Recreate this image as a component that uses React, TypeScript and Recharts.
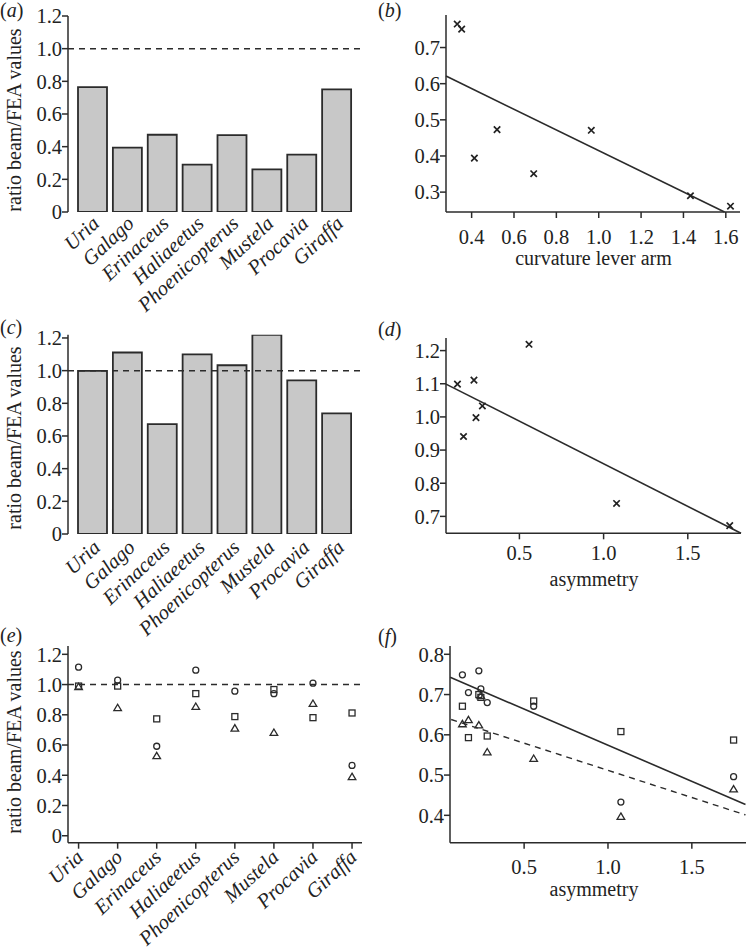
import React from 'react';
import { BarChart, Bar, XAxis, YAxis, ReferenceLine, ScatterChart, Scatter } from 'recharts';

const FONT = "'Liberation Serif', 'Times New Roman', serif";
const INK = '#2b2b2b';
const TXT = '#222';

// ---- data ----
const species = ['Uria', 'Galago', 'Erinaceus', 'Haliaeetus', 'Phoenicopterus', 'Mustela', 'Procavia', 'Giraffa'];
const ratioA = [0.765, 0.394, 0.473, 0.29, 0.471, 0.261, 0.351, 0.751];
const ratioC = [0.998, 1.111, 0.672, 1.099, 1.033, 1.219, 0.941, 0.739];
const curvatureLeverArm = [0.332, 0.413, 0.52, 1.433, 0.965, 1.622, 0.693, 0.353];
const asymmetry = [0.242, 0.23, 1.749, 0.132, 0.28, 0.557, 0.168, 1.077];
const eCircle = [1.115, 1.029, 0.592, 1.095, 0.956, 0.94, 1.009, 0.465];
const eSquare = [0.99, 0.99, 0.773, 0.94, 0.788, 0.967, 0.781, 0.812];
const eTriangle = [0.985, 0.846, 0.528, 0.854, 0.711, 0.682, 0.874, 0.39];
const fCircle = [0.714, 0.759, 0.496, 0.749, 0.68, 0.671, 0.705, 0.433];
const fSquare = [0.693, 0.7, 0.587, 0.671, 0.597, 0.684, 0.593, 0.608];
const fTriangle = [0.697, 0.624, 0.465, 0.627, 0.557, 0.541, 0.637, 0.397];
const fitB = [{ x: 0.279, y: 0.621 }, { x: 1.594, y: 0.245 }];
const fitD = [{ x: 0.064, y: 1.099 }, { x: 1.816, y: 0.649 }];
const fitFSolid = [{ x: 0.059, y: 0.743 }, { x: 1.82, y: 0.427 }];
const fitFDashed = [{ x: 0.065, y: 0.638 }, { x: 1.82, y: 0.401 }];

const ratioTicks = [0, 0.2, 0.4, 0.6, 0.8, 1.0, 1.2];
const curvTicks = [0.4, 0.6, 0.8, 1.0, 1.2, 1.4, 1.6];
const bTicksY = [0.3, 0.4, 0.5, 0.6, 0.7];
const asymTicks = [0.5, 1.0, 1.5];
const dTicksY = [0.7, 0.8, 0.9, 1.0, 1.1, 1.2];
const fTicksY = [0.4, 0.5, 0.6, 0.7, 0.8];
const speciesIdx = [0, 1, 2, 3, 4, 5, 6, 7];

const dataA = species.map((s, i) => ({ name: s, v: ratioA[i] }));
const dataC = species.map((s, i) => ({ name: s, v: ratioC[i] }));
const dataB = species.map((s, i) => ({ name: s, x: curvatureLeverArm[i], y: ratioA[i] }));
const dataD = species.map((s, i) => ({ name: s, x: asymmetry[i], y: ratioC[i] }));
const dataECircle = eCircle.map((v, i) => ({ x: speciesIdx[i], y: v }));
const dataESquare = eSquare.map((v, i) => ({ x: speciesIdx[i], y: v }));
const dataETriangle = eTriangle.map((v, i) => ({ x: speciesIdx[i], y: v }));
const dataFCircle = fCircle.map((v, i) => ({ x: asymmetry[i], y: v }));
const dataFSquare = fSquare.map((v, i) => ({ x: asymmetry[i], y: v }));
const dataFTriangle = fTriangle.map((v, i) => ({ x: asymmetry[i], y: v }));

// ---- helpers ----
const fmt1 = (v: number) => (v === 0 ? '0' : v.toFixed(1));
const tickStyle = { fontSize: 20.5, fill: TXT, fontFamily: FONT };
const axisLineStyle = { stroke: INK, strokeWidth: 1.5 };

const makeSpeciesTick = (dx: number, dy: number, fromIndex: boolean) => (props: any) => {
  const { x, y, payload } = props;
  const label = fromIndex ? species[payload.value] : payload.value;
  const tx = x + dx;
  const ty = y + dy;
  return (
    <text x={tx} y={ty} transform={`rotate(-43 ${tx} ${ty})`} textAnchor="end"
      fontStyle="italic" fontSize={20.5} fontFamily={FONT} fill={TXT}>{label}</text>
  );
};

const CrossMark = (p: any) => {
  const { cx, cy } = p;
  const s = 3.2;
  return <path d={`M${cx - s},${cy - s}L${cx + s},${cy + s}M${cx - s},${cy + s}L${cx + s},${cy - s}`} stroke={TXT} strokeWidth={1.7} fill="none" />;
};
const CircleMark = (p: any) => <circle cx={p.cx} cy={p.cy} r={3} fill="none" stroke={INK} strokeWidth={1.3} />;
const SquareMark = (p: any) => <rect x={p.cx - 3} y={p.cy - 3} width={6} height={6} fill="none" stroke={INK} strokeWidth={1.3} />;
const TriangleMark = (p: any) => <path d={`M${p.cx},${p.cy - 3.6}L${p.cx + 3.8},${p.cy + 2.8}L${p.cx - 3.8},${p.cy + 2.8}Z`} fill="none" stroke={INK} strokeWidth={1.3} />;

const Abs = ({ left, top, z, children }: any) => (
  <div style={{ position: 'absolute', left, top, zIndex: z || 0 }}>{children}</div>
);

const RatioBars = ({ data, top, height, xh, tick, ymax }: any) => (
  <BarChart width={373} height={height} data={data} margin={{ top, right: 13, left: 0, bottom: 0 }}>
    <XAxis dataKey="name" axisLine={false} tickLine={false} tickSize={0} tickMargin={0} height={xh}
      padding={{ left: 7, right: 6 }} interval={0} tick={tick} />
    <YAxis type="number" domain={[0, ymax]} ticks={ratioTicks} tickFormatter={fmt1} width={68}
      axisLine={axisLineStyle} tickLine={axisLineStyle} tickSize={6} tickMargin={0} tick={tickStyle} allowDataOverflow />
    <Bar dataKey="v" fill="#c8c8c8" stroke={INK} strokeWidth={1.8} barSize={29} isAnimationActive={false} />
    <ReferenceLine y={1} stroke={INK} strokeWidth={1.5} strokeDasharray="6 5" />
  </BarChart>
);

export default function App() {
  return (
    <div style={{ position: 'absolute', left: 0, top: 0, width: 746, height: 947, background: '#fff', overflow: 'hidden' }}>
      <style>{'.recharts-surface{overflow:visible}'}</style>
      {/* (a) */}
      <Abs left={0} top={0} z={2}>
        <RatioBars data={dataA} top={16} height={300} xh={88} ymax={1.2} tick={makeSpeciesTick(8, 13, false)} />
      </Abs>
      {/* (c) */}
      <Abs left={0} top={300} z={1}>
        <RatioBars data={dataC} top={34.7} height={320} xh={86} ymax={1.22} tick={makeSpeciesTick(9, 15, false)} />
      </Abs>
      {/* (b) */}
      <Abs left={373} top={0}>
        <ScatterChart width={373} height={300} margin={{ top: 15, right: 6, left: 0, bottom: 0 }}>
          <XAxis type="number" dataKey="x" domain={[0.279, 1.667]} ticks={curvTicks} tickFormatter={fmt1} height={88}
            axisLine={axisLineStyle} tickLine={axisLineStyle} tickSize={6} tickMargin={11} tick={tickStyle} allowDataOverflow />
          <YAxis type="number" dataKey="y" domain={[0.245, 0.79]} ticks={bTicksY} tickFormatter={fmt1} width={73}
            axisLine={axisLineStyle} tickLine={axisLineStyle} tickSize={6} tickMargin={0} tick={tickStyle} allowDataOverflow />
          <ReferenceLine segment={fitB} stroke={INK} strokeWidth={1.6} ifOverflow="visible" />
          <Scatter data={dataB} shape={CrossMark} isAnimationActive={false} />
        </ScatterChart>
      </Abs>
      {/* (d) */}
      <Abs left={373} top={300}>
        <ScatterChart width={373} height={320} margin={{ top: 38, right: 5, left: 0, bottom: 0 }}>
          <XAxis type="number" dataKey="x" domain={[0.064, 1.816]} ticks={asymTicks} tickFormatter={fmt1} height={86.7}
            axisLine={axisLineStyle} tickLine={axisLineStyle} tickSize={6} tickMargin={6} tick={tickStyle} allowDataOverflow />
          <YAxis type="number" dataKey="y" domain={[0.649, 1.238]} ticks={dTicksY} tickFormatter={fmt1} width={73}
            axisLine={axisLineStyle} tickLine={axisLineStyle} tickSize={6} tickMargin={0} tick={tickStyle} allowDataOverflow />
          <ReferenceLine segment={fitD} stroke={INK} strokeWidth={1.6} ifOverflow="visible" />
          <Scatter data={dataD} shape={CrossMark} isAnimationActive={false} />
        </ScatterChart>
      </Abs>
      {/* (e) */}
      <Abs left={0} top={620}>
        <ScatterChart width={373} height={327} margin={{ top: 26, right: 11, left: 0, bottom: 0 }}>
          <XAxis type="number" dataKey="x" domain={[-0.271, 7.255]} ticks={speciesIdx} height={104.3}
            axisLine={axisLineStyle} tickLine={axisLineStyle} tickSize={6} tickMargin={0}
            tick={makeSpeciesTick(6, 10, true)} allowDataOverflow interval={0} />
          <YAxis type="number" dataKey="y" domain={[-0.046, 1.255]} ticks={ratioTicks} tickFormatter={fmt1} width={68}
            axisLine={axisLineStyle} tickLine={axisLineStyle} tickSize={6} tickMargin={0} tick={tickStyle} allowDataOverflow />
          <ReferenceLine y={1} stroke={INK} strokeWidth={1.5} strokeDasharray="6 5" />
          <Scatter data={dataECircle} shape={CircleMark} isAnimationActive={false} />
          <Scatter data={dataESquare} shape={SquareMark} isAnimationActive={false} />
          <Scatter data={dataETriangle} shape={TriangleMark} isAnimationActive={false} />
        </ScatterChart>
      </Abs>
      {/* (f) */}
      <Abs left={373} top={620}>
        <ScatterChart width={373} height={327} margin={{ top: 26, right: 0, left: 0, bottom: 0 }}>
          <XAxis type="number" dataKey="x" domain={[0.058, 1.823]} ticks={asymTicks} tickFormatter={fmt1} height={104.3}
            axisLine={axisLineStyle} tickLine={axisLineStyle} tickSize={6} tickMargin={11} tick={tickStyle} allowDataOverflow />
          <YAxis type="number" dataKey="y" domain={[0.332, 0.8206]} ticks={fTicksY} tickFormatter={fmt1} width={77}
            axisLine={axisLineStyle} tickLine={axisLineStyle} tickSize={6} tickMargin={0} tick={tickStyle} allowDataOverflow />
          <ReferenceLine segment={fitFSolid} stroke={INK} strokeWidth={1.6} ifOverflow="visible" />
          <ReferenceLine segment={fitFDashed} stroke={INK} strokeWidth={1.4} strokeDasharray="6 5" ifOverflow="visible" />
          <Scatter data={dataFCircle} shape={CircleMark} isAnimationActive={false} />
          <Scatter data={dataFSquare} shape={SquareMark} isAnimationActive={false} />
          <Scatter data={dataFTriangle} shape={TriangleMark} isAnimationActive={false} />
        </ScatterChart>
      </Abs>
      {/* overlay text: panel labels and axis titles */}
      <svg width={746} height={947} style={{ position: 'absolute', left: 0, top: 0, pointerEvents: 'none', zIndex: 3 }}
        fontFamily={FONT} fill={TXT}>
        <g fontSize={20}>
          <text x={0} y={17}>(<tspan fontStyle="italic">a</tspan>)</text>
          <text x={378} y={17}>(<tspan fontStyle="italic">b</tspan>)</text>
          <text x={0} y={334}>(<tspan fontStyle="italic">c</tspan>)</text>
          <text x={378} y={336}>(<tspan fontStyle="italic">d</tspan>)</text>
          <text x={0} y={642}>(<tspan fontStyle="italic">e</tspan>)</text>
          <text x={378} y={643}>(<tspan fontStyle="italic">f</tspan>)</text>
        </g>
        <g fontSize={20} textAnchor="middle">
          <text transform="translate(21 120) rotate(-90)">ratio beam/FEA values</text>
          <text transform="translate(21 438) rotate(-90)">ratio beam/FEA values</text>
          <text transform="translate(21 742) rotate(-90)">ratio beam/FEA values</text>
          <text x={593.5} y={265}>curvature lever arm</text>
          <text x={594} y={586}>asymmetry</text>
          <text x={594} y={896}>asymmetry</text>
        </g>
      </svg>
    </div>
  );
}
